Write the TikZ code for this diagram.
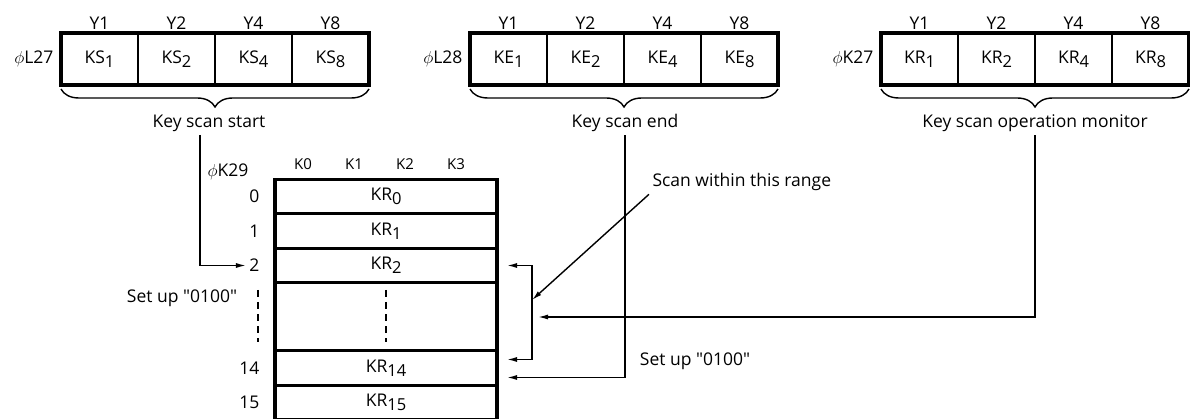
\documentclass[tikz,border=0pt]{standalone}
\usepackage{fontspec}
\newfontfamily\diagfont{Open Sans}
\usetikzlibrary{positioning, arrows.meta, decorations.pathreplacing}
\newcommand{\sbs}[1]{\raisebox{-4pt}{\fontsize{16.5}{16.5}\selectfont #1}}

\begin{document}
\begin{tikzpicture}[x=1pt, y=-1pt, font=\diagfont\fontsize{17.5}{20}\selectfont,
    cell/.style={draw, line width=2.4pt, outer sep=0pt, inner sep=0pt, minimum width=77pt, minimum height=52pt},
    row/.style={draw, line width=2.6pt, outer sep=0pt, inner sep=0pt, minimum width=222pt, minimum height=34.5pt},
    frame/.style={line width=3.8pt},
    brace/.style={decorate, decoration={brace, mirror, amplitude=18pt}, line width=1.4pt},
    wire/.style={line width=1.4pt, -{Latex[length=10pt, width=5pt]}},
    both/.style={line width=1.4pt, {Latex[length=10pt, width=5pt]}-{Latex[length=10pt, width=5pt]}}]
  \useasboundingbox (0,0) rectangle (1190,419);

  % three 4-bit registers
  \foreach \n [count=\i from 0] in {1,2,4,8} {
    \node[cell] (ks\n) at (99.5+77*\i,59) {KS\sbs{\n}};
    \node[above=0pt of ks\n] {Y\n};
    \node[cell] (ke\n) at (508.5+77*\i,59) {KE\sbs{\n}};
    \node[above=0pt of ke\n] {Y\n};
    \node[cell] (km\n) at (919.5+77*\i,59) {KR\sbs{\n}};
    \node[above=0pt of km\n] {Y\n};
  }
  \draw[frame] (ks1.north west) rectangle (ks8.south east);
  \draw[frame] (ke1.north west) rectangle (ke8.south east);
  \draw[frame] (km1.north west) rectangle (km8.south east);
  \node[left=4pt of ks1] {$\phi$L27};
  \node[left=4pt of ke1] {$\phi$L28};
  \node[left=4pt of km1] {$\phi$K27};

  \draw[brace] ([yshift=-4pt]ks1.south west) -- ([yshift=-4pt]ks8.south east);
  \draw[brace] ([yshift=-4pt]ke1.south west) -- ([yshift=-4pt]ke8.south east);
  \draw[brace] ([yshift=-4pt]km1.south west) -- ([yshift=-4pt]km8.south east);
  \node (start) at (209,123) {Key scan start};
  \node (end) at (625,123) {Key scan end};
  \node (monitor) at (1035,123) {Key scan operation monitor};

  % key data table
  \node[row] (kr0) at (386,196.5) {KR\sbs{0}};
  \node[row, below=0pt of kr0] (kr1) {KR\sbs{1}};
  \node[row, below=0pt of kr1] (kr2) {KR\sbs{2}};
  \node[row, below=0pt of kr2, minimum height=68pt] (krdots) {};
  \node[row, below=0pt of krdots] (kr14) {KR\sbs{14}};
  \node[row, below=0pt of kr14] (kr15) {KR\sbs{15}};
  \draw[line width=3.2pt] (kr15.south west) -- (kr0.north west) -- (kr0.north east) -- (kr15.south east);
  \foreach \k in {0,...,3}
    \node[font=\diagfont\fontsize{15}{17}\selectfont] at (303+51*\k,164) {K\k};
  \node at (228,172) {$\phi$K29};
  \foreach \r in {0,1,2,14,15}
    \node[left=12pt of kr\r] (n\r) {\r};
  \draw[line width=1.4pt, dash pattern=on 7pt off 5pt] (258,290) -- (258,342);
  \draw[line width=1.4pt, dash pattern=on 7pt off 5pt] (386,290) -- (386,342);
  \node at (182,298) {Set up "0100"};
  \node at (695,361) {Set up "0100"};

  % connectors
  \coordinate (rng) at (532,300);
  \coordinate (mon) at (538,317);
  \node[anchor=west] (range) at (649,182) {Scan within this range};
  \draw[wire] ([xshift=-9pt]start.south) |- (n2.west);
  \draw[both] ([xshift=10pt]kr2.east) -| (rng) |- ([xshift=10pt, yshift=8.5pt]kr14.east);
  \draw[wire] (range.south west) -- (rng);
  \draw[wire] (monitor.south) |- (mon);
  \draw[wire] (end.south) |- ([xshift=10pt, yshift=-9.5pt]kr14.east);
\end{tikzpicture}
\end{document}
